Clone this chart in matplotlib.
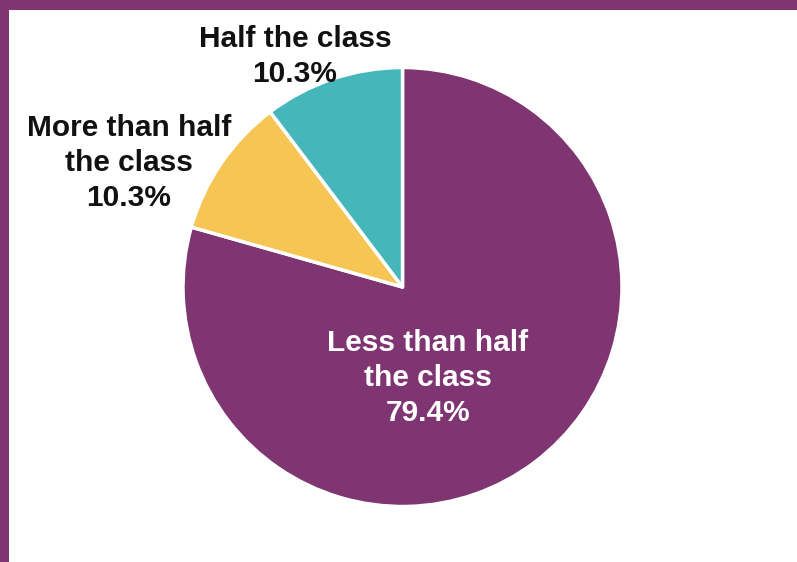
import matplotlib
matplotlib.use("Agg")
import matplotlib.pyplot as plt
from matplotlib.patches import Rectangle

categories = ["Less than half\nthe class", "More than half\nthe class", "Half the class"]
shares = [79.4, 10.3, 10.3]
colors = ["#7E3571", "#F6C553", "#45B6BA"]
label_colors = ["white", "#111111", "#111111"]
# label anchor points in pie data units (radius = 1)
label_pos = [(0.116, -0.415), (-1.246, 0.565), (-0.49, 1.05)]

W, H = 797, 562
fig = plt.figure(figsize=(W / 100, H / 100), dpi=100)
fig.patch.set_facecolor("white")

# purple frame along the top and left edges
fig.patches.append(Rectangle((0, (H - 10) / H), 1, 10 / H, transform=fig.transFigure,
                             facecolor="#803573", edgecolor="none", zorder=0))
fig.patches.append(Rectangle((0, 0), 9 / W, 1, transform=fig.transFigure,
                             facecolor="#803573", edgecolor="none", zorder=0))

cx, cy, r = 402.5, 287, 219.5
ax = fig.add_axes([(cx - r) / W, (H - cy - r) / H, 2 * r / W, 2 * r / H])

ax.pie(shares, colors=colors, startangle=90, counterclock=False, radius=1,
       wedgeprops=dict(edgecolor="white", linewidth=2.5, joinstyle="round"))
ax.set_xlim(-1, 1)
ax.set_ylim(-1, 1)
ax.axis("off")

for cat, val, (x, y), c in zip(categories, shares, label_pos, label_colors):
    ax.text(x, y, f"{cat}\n{val:.1f}%", ha="center", va="center", color=c,
            fontsize=21.5, fontweight="bold", family="Liberation Sans",
            linespacing=1.3, clip_on=False)

fig.savefig("out.png", dpi=100, facecolor="white")
